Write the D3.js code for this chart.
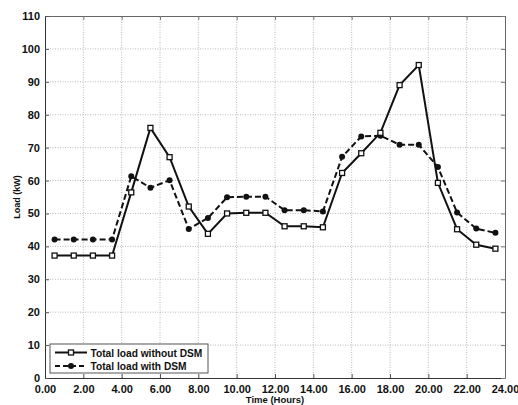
<!DOCTYPE html>
<html>
<head>
<meta charset="utf-8">
<script src="https://cdn.jsdelivr.net/npm/d3@7/dist/d3.min.js"></script>
<style>
body { margin: 0; background: #fff; }
svg text { font-family: "Liberation Sans", Arial, sans-serif; font-weight: bold; fill: #111; }
</style>
</head>
<body>
<div id="chart"></div>
<script>
var w = 518;
var h = 405;
var margin = {top: 16, right: 13, bottom: 27, left: 45};

var hours = [0.5, 1.5, 2.5, 3.5, 4.5, 5.5, 6.5, 7.5, 8.5, 9.5, 10.5, 11.5,
             12.5, 13.5, 14.5, 15.5, 16.5, 17.5, 18.5, 19.5, 20.5, 21.5, 22.5, 23.5];
var withoutDSM = [37.2, 37.2, 37.2, 37.2, 56.4, 76, 67.1, 52.1, 43.8, 50, 50.2, 50.2,
                  46.1, 46.1, 45.8, 62.3, 68.3, 74.5, 89, 95.1, 59.3, 45.2, 40.5, 39.3];
var withDSM = [42.1, 42.1, 42.1, 42.1, 61.3, 57.8, 60.1, 45.3, 48.6, 54.9, 55.1, 55.1,
               51, 51, 50.6, 67.2, 73.4, 73.6, 70.9, 70.9, 64.1, 50.3, 45.4, 44.1];
var xTicks = [0, 2, 4, 6, 8, 10, 12, 14, 16, 18, 20, 22, 24];
var yTicks = [0, 10, 20, 30, 40, 50, 60, 70, 80, 90, 100, 110];
var seriesNames = ["Total load without DSM", "Total load with DSM"];

var svg = d3.select("#chart").append("svg")
  .attr("width", w)
  .attr("height", h);

var x = d3.scaleLinear().domain([0, 24]).range([margin.left, w - margin.right]);
var y = d3.scaleLinear().domain([0, 110]).range([h - margin.bottom, margin.top]);

var x0 = margin.left, x1 = w - margin.right, y0 = h - margin.bottom, y1 = margin.top;

// grid
svg.append("g").selectAll("line.vg")
  .data(xTicks.slice(1, -1)).enter().append("line")
  .attr("x1", function(d) { return x(d); }).attr("x2", function(d) { return x(d); })
  .attr("y1", y0).attr("y2", y1)
  .attr("stroke", "#aaa").attr("stroke-width", 0.8).attr("stroke-dasharray", "1,1.5");
svg.append("g").selectAll("line.hg")
  .data(yTicks.slice(1, -1)).enter().append("line")
  .attr("y1", function(d) { return y(d); }).attr("y2", function(d) { return y(d); })
  .attr("x1", x0).attr("x2", x1)
  .attr("stroke", "#aaa").attr("stroke-width", 0.8).attr("stroke-dasharray", "1,1.5");

// axes (ticks inward on all four sides)
var fmt = d3.format(".2f");
svg.append("g").attr("transform", "translate(0," + y0 + ")")
  .call(d3.axisBottom(x).tickValues(xTicks).tickFormat(fmt).tickSizeInner(-4).tickSizeOuter(0).tickPadding(7))
  .call(function(g) {
    g.select(".domain").attr("stroke", "#333");
    g.selectAll("line").attr("stroke", "#555");
    g.selectAll("text").attr("font-size", "11px").attr("fill", "#111")
      .attr("font-family", "Liberation Sans, Arial, sans-serif");
  });
svg.append("g").attr("transform", "translate(0," + y1 + ")")
  .call(d3.axisTop(x).tickValues(xTicks).tickFormat("").tickSizeInner(-4).tickSizeOuter(0))
  .call(function(g) {
    g.select(".domain").attr("stroke", "#666");
    g.selectAll("line").attr("stroke", "#777");
  });
svg.append("g").attr("transform", "translate(" + x0 + ",0)")
  .call(d3.axisLeft(y).tickValues(yTicks).tickSizeInner(-4).tickSizeOuter(0).tickPadding(5))
  .call(function(g) {
    g.select(".domain").attr("stroke", "#333");
    g.selectAll("line").attr("stroke", "#555");
    g.selectAll("text").attr("font-size", "11px").attr("fill", "#111")
      .attr("font-family", "Liberation Sans, Arial, sans-serif");
  });
svg.append("g").attr("transform", "translate(" + x1 + ",0)")
  .call(d3.axisRight(y).tickValues(yTicks).tickFormat("").tickSizeInner(-4).tickSizeOuter(0))
  .call(function(g) {
    g.select(".domain").attr("stroke", "#666");
    g.selectAll("line").attr("stroke", "#777");
  });

// axis titles
svg.append("text")
  .attr("x", (x0 + x1) / 2).attr("y", h - 2)
  .attr("text-anchor", "middle").attr("font-size", "9.5px")
  .text("Time (Hours)");
svg.append("text")
  .attr("transform", "translate(20," + ((y0 + y1) / 2) + ") rotate(-90)")
  .attr("text-anchor", "middle").attr("font-size", "9px").attr("font-weight", "normal")
  .text("Load (kW)");

// lines
var line = d3.line()
  .x(function(d) { return x(d[0]); })
  .y(function(d) { return y(d[1]); });

var s1 = d3.zip(hours, withoutDSM);
var s2 = d3.zip(hours, withDSM);

svg.append("path").datum(s2)
  .attr("d", line).attr("fill", "none")
  .attr("stroke", "#111").attr("stroke-width", 2).attr("stroke-dasharray", "6,3");
svg.append("path").datum(s1)
  .attr("d", line).attr("fill", "none")
  .attr("stroke", "#111").attr("stroke-width", 2);

svg.append("g").selectAll("circle")
  .data(s2).enter().append("circle")
  .attr("cx", function(d) { return x(d[0]); })
  .attr("cy", function(d) { return y(d[1]); })
  .attr("r", 3).attr("fill", "#111");
svg.append("g").selectAll("rect")
  .data(s1).enter().append("rect")
  .attr("x", function(d) { return x(d[0]) - 2.5; })
  .attr("y", function(d) { return y(d[1]) - 2.5; })
  .attr("width", 5).attr("height", 5)
  .attr("fill", "#fff").attr("stroke", "#111").attr("stroke-width", 1.3);

// legend
var lg = svg.append("g").attr("transform", "translate(50,344)");
lg.append("rect").attr("width", 158).attr("height", 29)
  .attr("fill", "#fff").attr("stroke", "#555").attr("stroke-width", 1);
lg.append("line").attr("x1", 5).attr("x2", 37).attr("y1", 8.5).attr("y2", 8.5)
  .attr("stroke", "#111").attr("stroke-width", 2);
lg.append("rect").attr("x", 18.5).attr("y", 6).attr("width", 5).attr("height", 5)
  .attr("fill", "#fff").attr("stroke", "#111").attr("stroke-width", 1.3);
lg.append("line").attr("x1", 5).attr("x2", 37).attr("y1", 22).attr("y2", 22)
  .attr("stroke", "#111").attr("stroke-width", 2).attr("stroke-dasharray", "5,3");
lg.append("circle").attr("cx", 21).attr("cy", 22).attr("r", 3).attr("fill", "#111");
lg.selectAll("text.lt").data(seriesNames).enter().append("text")
  .attr("x", 40.5).attr("y", function(d, i) { return 12.5 + i * 13.5; })
  .attr("font-size", "10.2px")
  .text(function(d) { return d; });
</script>
</body>
</html>
